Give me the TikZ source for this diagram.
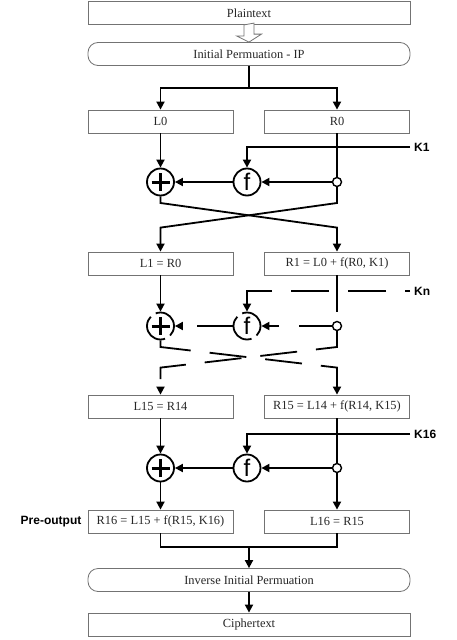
\documentclass[tikz,border=0pt]{standalone}
\usepackage{fontspec}
\setmainfont{Liberation Serif}
\setsansfont{Liberation Sans}
\usetikzlibrary{arrows.meta,calc}

\begin{document}
\begin{tikzpicture}[x=1pt,y=-1pt,
  box/.style={draw=black!55,line width=0.8pt,minimum width=145pt,minimum height=23pt,inner sep=0pt,text=black!85,font=\fontsize{12.4}{14}\selectfont},
  widebox/.style={box,minimum width=322pt},
  permbox/.style={widebox,rounded corners=10pt},
  xorop/.style={circle,draw,line width=1.8pt,minimum size=27pt,inner sep=0pt},
  fop/.style={xorop,font=\sffamily\fontsize{24}{24}\selectfont},
  tap/.style={circle,draw,fill=white,line width=1.4pt,minimum size=9pt,inner sep=0pt},
  key/.style={font=\sffamily\bfseries\fontsize{12}{14}\selectfont,anchor=west,inner sep=4pt},
  wire/.style={line width=1.8pt},
  flow/.style={wire,-{Triangle[length=8pt,width=8pt]}},
  gap/.style={dash pattern=on 37pt off 19pt},
  gapcircle/.style={dash pattern=on 36pt off 6pt,dash phase=10pt},
  hollow/.style={draw=black!55,line width=0.8pt,fill=white}]

  \useasboundingbox (0,0) rectangle (457,640);

  % one round: xor, f and tap circles
  \def\fround#1#2#3{
    \node[xorop,#3] (x#1) at (160.5,#2) {};
    \draw[line width=3pt] ([xshift=-9pt]x#1.center) -- ([xshift=9pt]x#1.center)
      ([yshift=-9pt]x#1.center) -- ([yshift=9pt]x#1.center);
    \node[fop,#3] (f#1) at (247,#2) {f};
    \node[tap] (t#1) at (337,#2) {};
  }

  \node[widebox] (plain) at (249,13) {Plaintext};
  \node[permbox] (ip) at (249,54) {Initial Permuation - IP};
  \draw[hollow] (plain.south) ++(-5,0) -- ++(0,11) -- ++(-7.5,0) -- (ip.north)
    -- ++(12.5,-8) -- ++(-7.5,0) -- ++(0,-11) -- cycle;

  \node[box] (l0) at (160.5,121.5) {L0};
  \node[box] (r0) at (337,121.5) {R0};
  \node[box] (l1) at (160.5,263.5) {L1 = R0};
  \node[box] (r1) at (337,263.5) {R1 = L0 + f(R0, K1)};
  \node[box] (l15) at (160.5,406.5) {L15 = R14};
  \node[box] (r15) at (337,406.5) {R15 = L14 + f(R14, K15)};
  \node[box] (r16) at (160.5,521.5) {R16 = L15 + f(R15, K16)};
  \node[box] (l16) at (337,521.5) {L16 = R15};
  \node[permbox] (iip) at (249,580) {Inverse Initial Permuation};
  \node[widebox] (cipher) at (249,624.5) {Ciphertext};

  \node[key] (k1) at (410,147) {K1};
  \node[key] (kn) at (410,291) {Kn};
  \node[key] (k16) at (410,434) {K16};
  \node[key,anchor=east] (pre) at ([xshift=-2pt]r16.west) {Pre-output};

  \fround{1}{182}{}
  \fround{2}{326}{gapcircle}
  \fround{3}{468}{}

  \coordinate (split) at (249,88);
  \coordinate (c1) at (249,203);
  \coordinate (c2) at (249,347);
  \coordinate (merge) at (249,547);

  % IP split
  \draw[wire] (ip) -- (split);
  \draw[flow] (split) -| (l0);
  \draw[flow] (split) -| (r0);

  % round 1
  \draw[flow] (l0) -- (x1);
  \draw[wire] (r0) -- (t1);
  \draw[flow] (k1.west) -| (f1);
  \draw[flow] (t1) -- (f1);
  \draw[flow] (f1) -- (x1);
  \draw[flow] (x1.south) -- (x1.south |- c1) -- ([yshift=24pt]r1.north) -- (r1);
  \draw[flow] (t1.south) -- (t1.south |- c1) -- ([yshift=24pt]l1.north) -- (l1);

  % rounds 2 to 15
  \draw[flow] (l1) -- (x2);
  \draw[wire,gap] (r1) -- (t2);
  \draw[flow,dash pattern=on 38pt off 19pt,dash phase=33pt] (kn.west) -| (f2);
  \draw[flow,dash pattern=on 33pt off 20pt] (t2) -- (f2);
  \draw[flow,dash pattern=on 36pt off 20pt] (f2) -- (x2);
  \draw[flow,gap] (x2.south) -- (x2.south |- c2) -- ([yshift=27pt]r15.north) -- (r15);
  \draw[flow,gap] (t2.south) -- (t2.south |- c2) -- ([yshift=27pt]l15.north) -- (l15);

  % round 16
  \draw[flow] (l15) -- (x3);
  \draw[wire] (r15) -- (t3);
  \draw[flow] (k16.west) -| (f3);
  \draw[flow] (t3) -- (f3);
  \draw[flow] (f3) -- (x3);
  \draw[flow] (x3) -- (r16);
  \draw[flow] (t3) -- (l16);

  % output
  \draw[wire] (r16.south) |- (merge) -| (l16.south);
  \draw[flow] (merge) -- (iip);
  \draw[flow] (iip) -- (cipher);

\end{tikzpicture}
\end{document}
